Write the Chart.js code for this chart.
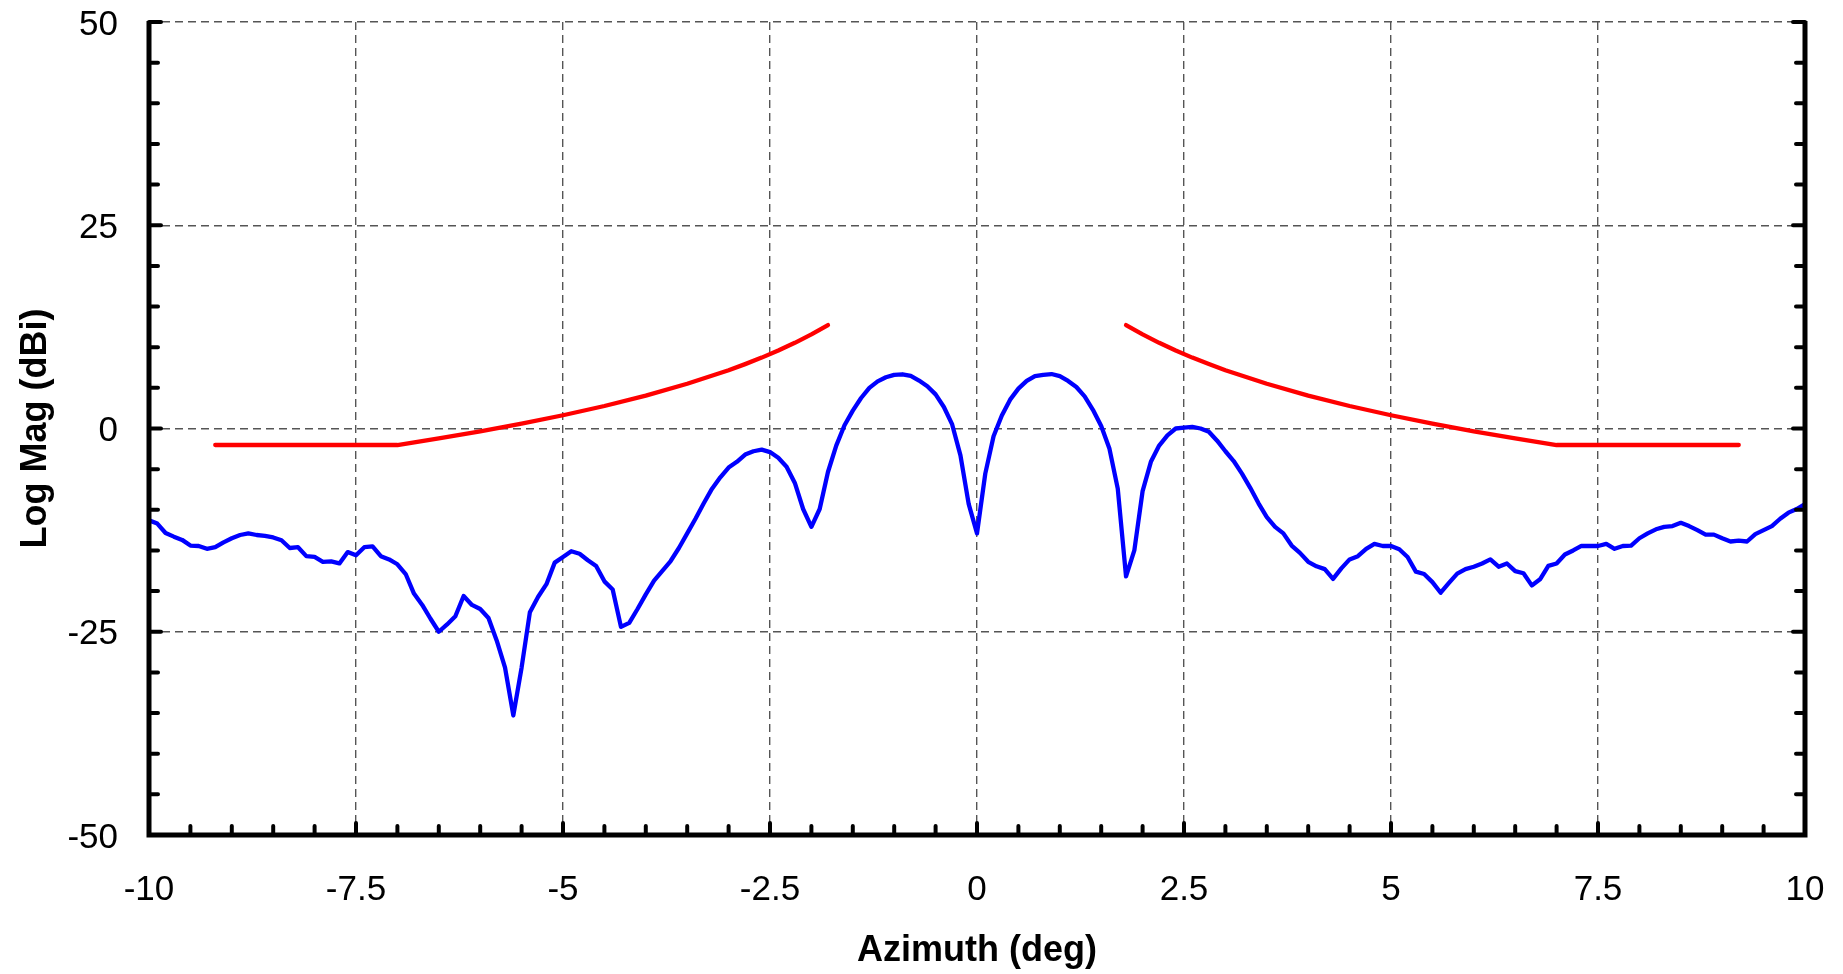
<!DOCTYPE html>
<html>
<head>
<meta charset="utf-8">
<script src="https://cdn.jsdelivr.net/npm/chart.js@4.4.1/dist/chart.umd.min.js"></script>
<style>
  html, body { margin: 0; padding: 0; background: #fff; }
  #wrap { width: 1843px; height: 974px; }
</style>
</head>
<body>
<div id="wrap"><canvas id="chart" width="1843" height="974"></canvas></div>
<script>

const azimuth = [
  -10, -9.9, -9.8, -9.7, -9.6, -9.5, -9.4, -9.3, -9.2, -9.1,
  -9, -8.9, -8.8, -8.7, -8.6, -8.5, -8.4, -8.3, -8.2, -8.1,
  -8, -7.9, -7.8, -7.7, -7.6, -7.5, -7.4, -7.3, -7.2, -7.1,
  -7, -6.9, -6.8, -6.7, -6.6, -6.5, -6.4, -6.3, -6.2, -6.1,
  -6, -5.9, -5.8, -5.7, -5.6, -5.5, -5.4, -5.3, -5.2, -5.1,
  -5, -4.9, -4.8, -4.7, -4.6, -4.5, -4.4, -4.3, -4.2, -4.1,
  -4, -3.9, -3.8, -3.7, -3.6, -3.5, -3.4, -3.3, -3.2, -3.1,
  -3, -2.9, -2.8, -2.7, -2.6, -2.5, -2.4, -2.3, -2.2, -2.1,
  -2, -1.9, -1.8, -1.7, -1.6, -1.5, -1.4, -1.3, -1.2, -1.1,
  -1, -0.9, -0.8, -0.7, -0.6, -0.5, -0.4, -0.3, -0.2, -0.1,
  0, 0.1, 0.2, 0.3, 0.4, 0.5, 0.6, 0.7, 0.8, 0.9,
  1, 1.1, 1.2, 1.3, 1.4, 1.5, 1.6, 1.7, 1.8, 1.9,
  2, 2.1, 2.2, 2.3, 2.4, 2.5, 2.6, 2.7, 2.8, 2.9,
  3, 3.1, 3.2, 3.3, 3.4, 3.5, 3.6, 3.7, 3.8, 3.9,
  4, 4.1, 4.2, 4.3, 4.4, 4.5, 4.6, 4.7, 4.8, 4.9,
  5, 5.1, 5.2, 5.3, 5.4, 5.5, 5.6, 5.7, 5.8, 5.9,
  6, 6.1, 6.2, 6.3, 6.4, 6.5, 6.6, 6.7, 6.8, 6.9,
  7, 7.1, 7.2, 7.3, 7.4, 7.5, 7.6, 7.7, 7.8, 7.9,
  8, 8.1, 8.2, 8.3, 8.4, 8.5, 8.6, 8.7, 8.8, 8.9,
  9, 9.1, 9.2, 9.3, 9.4, 9.5, 9.6, 9.7, 9.8, 9.9,
  10
];

const logMag = [
  -11.3, -11.7, -12.85, -13.3, -13.7, -14.4, -14.45, -14.8, -14.6, -14.0,
  -13.5, -13.1, -12.9, -13.1, -13.2, -13.4, -13.75, -14.7, -14.6, -15.7,
  -15.8, -16.4, -16.35, -16.6, -15.2, -15.6, -14.6, -14.5, -15.7, -16.1,
  -16.7, -17.9, -20.3, -21.7, -23.4, -25.0, -24.1, -23.1, -20.6, -21.7,
  -22.2, -23.3, -26.1, -29.4, -35.3, -29.4, -22.6, -20.7, -19.15, -16.5,
  -15.8, -15.1, -15.4, -16.2, -16.9, -18.8, -19.8, -24.4, -23.9, -22.2,
  -20.4, -18.7, -17.5, -16.3, -14.7, -12.9, -11.1, -9.2, -7.4, -6.0,
  -4.8, -4.1, -3.2, -2.8, -2.6, -2.9, -3.6, -4.7, -6.7, -9.9,
  -12.1, -9.9, -5.35, -2.1, 0.4, 2.2, 3.75, 5.0, 5.8, 6.3,
  6.6, 6.67, 6.46, 5.9, 5.2, 4.2, 2.65, 0.5, -3.3, -9.3,
  -12.9, -5.55, -0.96, 1.6, 3.55, 4.9, 5.85, 6.45, 6.6, 6.7,
  6.45, 5.85, 5.1, 3.95, 2.3, 0.3, -2.5, -7.4, -18.2, -15.0,
  -7.7, -4.1, -2.1, -0.84, 0.0, 0.1, 0.2, 0.0, -0.4, -1.5,
  -2.8, -4.0, -5.55, -7.3, -9.2, -10.9, -12.1, -12.9, -14.4, -15.3,
  -16.4, -16.95, -17.3, -18.5, -17.2, -16.1, -15.7, -14.8, -14.2, -14.45,
  -14.45, -14.85, -15.8, -17.6, -17.9, -18.9, -20.2, -19.0, -17.85, -17.3,
  -17.0, -16.6, -16.1, -17.0, -16.6, -17.55, -17.8, -19.3, -18.55, -16.9,
  -16.6, -15.5, -15.0, -14.45, -14.45, -14.45, -14.2, -14.8, -14.45, -14.4,
  -13.5, -12.9, -12.4, -12.1, -12.0, -11.6, -12.0, -12.5, -13.05, -13.05,
  -13.5, -13.9, -13.8, -13.9, -13.0, -12.5, -12.0, -11.1, -10.35, -9.9,
  -9.3
];

// mask: two branches, gap around boresight
const maskAz = [
  -9.2, -7.0, -6.5, -6.0, -5.5, -5.0, -4.5, -4.0, -3.5, -3.0, -2.8, -2.6, -2.4, -2.2, -2.0, -1.8,
  0,
  1.8, 2.0, 2.2, 2.4, 2.6, 2.8, 3.0, 3.5, 4.0, 4.5, 5.0, 5.5, 6.0, 6.5, 7.0, 9.2
];
const maskMag = [
  -2.03, -2.03, -1.22, -0.35, 0.59, 1.63, 2.77, 4.05, 5.5, 7.17, 7.92, 8.72, 9.6, 10.54, 11.57, 12.72,
  null,
  12.72, 11.57, 10.54, 9.6, 8.72, 7.92, 7.17, 5.5, 4.05, 2.77, 1.63, 0.59, -0.35, -1.22, -2.03, -2.03
];

const xTicks = [-10, -7.5, -5, -2.5, 0, 2.5, 5, 7.5, 10];
const yTicks = [-50, -25, 0, 25, 50];

const FONT = "'Liberation Sans', Arial, sans-serif";

// thick frame on left/right/bottom with inward minor+major ticks
const framePlugin = {
  id: "frame",
  afterDraw(chart) {
    const { ctx, chartArea: a, scales } = chart;
    const xs = scales.x, ys = scales.y;
    ctx.save();
    ctx.strokeStyle = "#000";
    ctx.lineCap = "round";
    ctx.lineWidth = 4;
    // bottom x ticks every 0.5
    for (let v = -10; v <= 10.001; v += 0.5) {
      const px = xs.getPixelForValue(v);
      const major = Math.abs(v / 2.5 - Math.round(v / 2.5)) < 1e-6;
      ctx.beginPath();
      ctx.moveTo(px, a.bottom);
      ctx.lineTo(px, a.bottom - (major ? 12 : 9));
      ctx.stroke();
    }
    // left / right y ticks every 5
    for (let v = -50; v <= 50; v += 5) {
      const py = ys.getPixelForValue(v);
      const len = v % 25 === 0 ? 12 : 9;
      ctx.beginPath();
      ctx.moveTo(a.left, py);
      ctx.lineTo(a.left + len, py);
      ctx.moveTo(a.right, py);
      ctx.lineTo(a.right - len, py);
      ctx.stroke();
    }
    ctx.lineCap = "butt";
    ctx.lineWidth = 5;
    ctx.beginPath();
    ctx.moveTo(a.left, a.top - 1);
    ctx.lineTo(a.left, a.bottom);
    ctx.lineTo(a.right, a.bottom);
    ctx.lineTo(a.right, a.top - 1);
    ctx.stroke();
    ctx.restore();
  }
};

// stop the scales from pushing the plot area in for label overhang
function noPad(s) {
  s.paddingTop = 0;
  s.paddingBottom = 0;
  s.paddingLeft = 0;
  s.paddingRight = 0;
}

new Chart(document.getElementById("chart"), {
  type: "line",
  data: {
    datasets: [
      {
        label: "Mask",
        data: maskAz.map((x, i) => ({ x: x, y: maskMag[i] })),
        borderColor: "#ff0000",
        borderWidth: 4.3,
        borderCapStyle: "round",
        borderJoinStyle: "round",
        pointRadius: 0,
        tension: 0,
        spanGaps: false
      },
      {
        label: "Log Mag",
        data: azimuth.map((x, i) => ({ x: x, y: logMag[i] })),
        borderColor: "#0000ff",
        borderWidth: 4.3,
        borderJoinStyle: "round",
        pointRadius: 0,
        tension: 0
      }
    ]
  },
  options: {
    responsive: false,
    animation: false,
    devicePixelRatio: 1,
    layout: { padding: { left: 0, right: 38, top: 22, bottom: 0 } },
    plugins: { legend: { display: false }, tooltip: { enabled: false } },
    scales: {
      x: {
        type: "linear",
        min: -10,
        max: 10,
        afterBuildTicks: (s) => { s.ticks = xTicks.map((v) => ({ value: v })); },
        afterFit: (s) => { s.height = 139; noPad(s); },
        ticks: {
          autoSkip: false,
          maxRotation: 0,
          padding: 34,
          color: "#000",
          font: { family: FONT, size: 35 },
          callback: (v) => String(v)
        },
        grid: { color: "#555", lineWidth: 1.4, drawTicks: false },
        border: { display: false, dash: [8, 5] },
        title: {
          display: true,
          text: "Azimuth (deg)",
          color: "#000",
          font: { family: FONT, size: 36, weight: "bold" },
          padding: { top: 0, bottom: 1 }
        }
      },
      y: {
        type: "linear",
        min: -50,
        max: 50,
        afterBuildTicks: (s) => { s.ticks = yTicks.map((v) => ({ value: v })); },
        afterFit: (s) => { s.width = 149; noPad(s); },
        ticks: {
          padding: 31,
          labelOffset: 3,
          color: "#000",
          font: { family: FONT, size: 35 },
          callback: (v) => String(v)
        },
        grid: { color: "#555", lineWidth: 1.4, drawTicks: false },
        border: { display: false, dash: [8, 5] },
        title: {
          display: true,
          text: "Log Mag (dBi)",
          color: "#000",
          font: { family: FONT, size: 36, weight: "bold" },
          padding: { top: 14, bottom: 0 }
        }
      }
    }
  },
  plugins: [framePlugin]
});
</script>
</body>
</html>
